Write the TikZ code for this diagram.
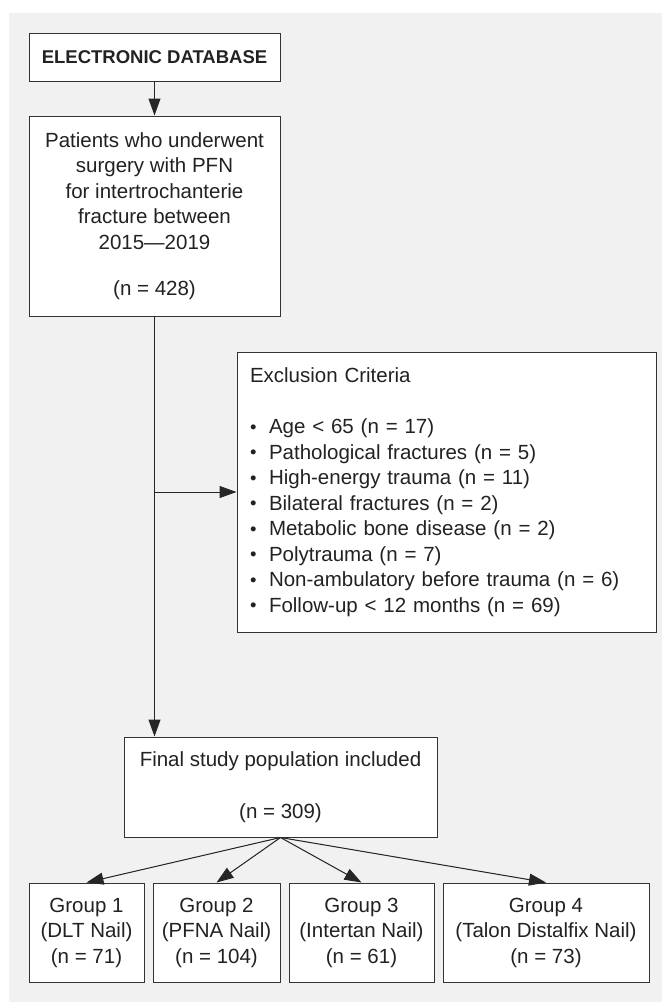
\documentclass[tikz,border=0pt]{standalone}
\usepackage{fontspec}
\setmainfont{Liberation Sans}
\usepackage{xcolor}
\usetikzlibrary{arrows.meta,positioning}
\definecolor{bggray}{HTML}{F1F1F1}
\definecolor{linegray}{HTML}{333333}
\definecolor{textgray}{HTML}{222222}
\newcommand{\bitem}[1]{\makebox[19pt][l]{\raisebox{0.5pt}{\scalebox{0.9}{\textbullet}}}#1}

\begin{document}
\begin{tikzpicture}[x=1pt,y=-1pt,
  box/.style={draw=linegray,fill=white,line width=1pt,text=textgray,align=center,
    inner sep=0pt,font=\fontsize{20.5}{25.5}\selectfont},
  arr/.style={-{Triangle[length=17pt,width=12pt]},line width=1pt,draw=black!85,fill=black!85}]
\useasboundingbox (0,0) rectangle (662,1002);
\fill[bggray] (9,13) rectangle (662,1002);
% Source and screening
\node[box,minimum width=251pt,minimum height=48pt,font=\fontsize{18.5}{22}\selectfont\bfseries] (db) at (154.5,57) {ELECTRONIC DATABASE};
\node[box,minimum width=251pt,minimum height=200pt] (patients) at (154.5,216) {Patients who underwent\\surgery with PFN\\for intertrochanterie\\fracture between\\2015---2019\\[21pt](n = 428)};
% Exclusion box
\node[box,minimum width=419pt,minimum height=280pt,align=left,text width=393pt] (excl) at (446.5,492) {Exclusion Criteria\\[26pt]
  \bitem{Age < 65 (n = 17)}\\
  \bitem{Pathological fractures (n = 5)}\\
  \bitem{High-energy trauma (n = 11)}\\
  \bitem{Bilateral fractures (n = 2)}\\
  \bitem{Metabolic bone disease (n = 2)}\\
  \bitem{Polytrauma (n = 7)}\\
  \bitem{Non-ambulatory before trauma (n = 6)}\\
  \bitem{Follow-up < 12 months (n = 69)}};
% Included
\node[box,minimum width=313pt,minimum height=100pt] (final) at (280.5,787) {Final study population included\\[26pt](n = 309)};
\draw[arr] (db) -- (patients);
\draw[arr] (patients.south) -- (patients.south |- final.north);
\draw[arr] (patients.south |- excl.west) -- (excl.west);
% Groups
\foreach \i/\cx/\bw/\nail/\num in {
    1/86.5/115/DLT Nail/71,
    2/216.5/127/PFNA Nail/104,
    3/361.5/145/Intertan Nail/61,
    4/546/206/Talon Distalfix Nail/73} {
  \node[box,minimum width=\bw pt,minimum height=99pt] (g\i) at (\cx,932.5) {Group \i\\(\nail)\\(n = \num)};
  \draw[arr] (final.south) -- (g\i.north);
}
\end{tikzpicture}
\end{document}
